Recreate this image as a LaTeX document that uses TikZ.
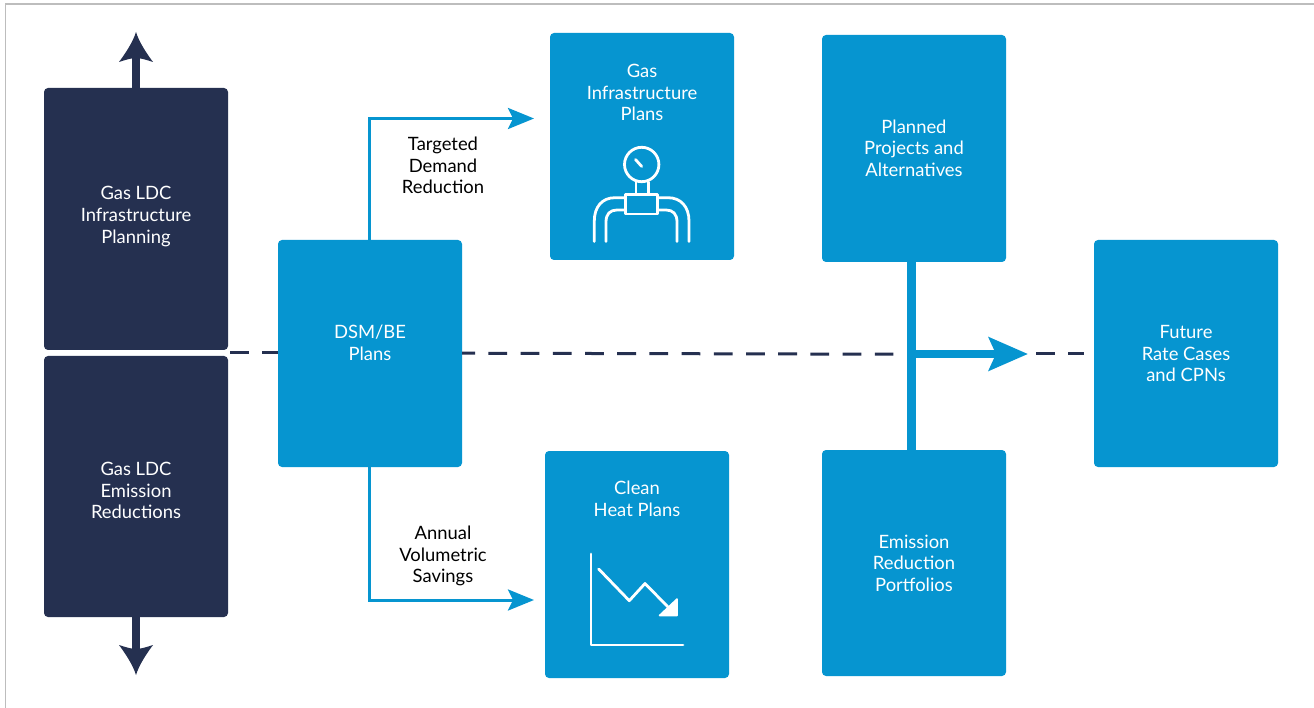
\documentclass[tikz,border=0pt]{standalone}
\usepackage{fontspec}
\setmainfont{Lato}
\usetikzlibrary{arrows.meta,calc}
\definecolor{cblue}{HTML}{0695D0}
\definecolor{cnavy}{HTML}{253050}
\definecolor{cframe}{HTML}{BDBDBD}
\pgfdeclarearrow{
  name=Barb,
  setup code={
    \pgfarrowssettipend{0pt}
    \pgfarrowssetbackend{-30pt}
    \pgfarrowssetlineend{-20pt}
    \pgfarrowsupperhullpoint{0pt}{0pt}
    \pgfarrowsupperhullpoint{-30pt}{17pt}
  },
  drawing code={
    \pgfpathmoveto{\pgfqpoint{0pt}{0pt}}
    \pgfpathcurveto{\pgfqpoint{-10pt}{3pt}}{\pgfqpoint{-22pt}{11pt}}{\pgfqpoint{-30pt}{17pt}}
    \pgfpathcurveto{\pgfqpoint{-27pt}{8pt}}{\pgfqpoint{-26pt}{3pt}}{\pgfqpoint{-26pt}{0pt}}
    \pgfpathcurveto{\pgfqpoint{-26pt}{-3pt}}{\pgfqpoint{-27pt}{-8pt}}{\pgfqpoint{-30pt}{-17pt}}
    \pgfpathcurveto{\pgfqpoint{-22pt}{-11pt}}{\pgfqpoint{-10pt}{-3pt}}{\pgfqpoint{0pt}{0pt}}
    \pgfpathclose
    \pgfusepathqfill
  }
}
\tikzset{
  x=1pt,y=-1pt,
  boxshape/.style={rectangle,rounded corners=4pt,minimum width=184pt,inner sep=0pt,outer sep=0pt},
  bluebox/.style={boxshape,fill=cblue},
  navybox/.style={boxshape,fill=cnavy},
  boxtext/.style={text=white,align=center,font=\fontsize{18.4}{21.6}\selectfont,inner sep=0pt},
  linktext/.style={text=black,align=center,font=\fontsize{18.4}{21.6}\selectfont,inner sep=0pt},
  thinlink/.style={cblue,line width=3pt,-{Stealth[length=26pt,width=21pt,inset=5pt]}},
  dashlink/.style={cnavy,line width=3pt,dash pattern=on 18.8pt off 13.4pt},
  heavybar/.style={cblue,line width=9pt},
  heavylink/.style={cblue,line width=8pt,-{Stealth[length=39pt,width=33pt,inset=7pt]}},
  navylink/.style={cnavy,line width=7.5pt,-{Barb}},
  icon/.style={white,line width=2.8pt,line cap=round,line join=round},
}
\begin{document}
\begin{tikzpicture}
\useasboundingbox (0,0) rectangle (1314,708);
\fill[white] (0,0) rectangle (1314,708);
\draw[cframe,line width=1.2pt] (5.5,708) -- (5.5,4) -- (1314,4);
% boxes
\node[navybox,minimum height=262pt] (infra) at (136,219) {};
\node[navybox,minimum height=261pt] (emis) at (136,486.5) {};
\node[bluebox,minimum height=227pt] (dsm) at (370,353.5) {};
\node[bluebox,minimum height=227pt] (gas) at (642,146.5) {};
\node[bluebox,minimum height=227pt] (clean) at (637,564.5) {};
\node[bluebox,minimum height=227pt] (planned) at (914,148.5) {};
\node[bluebox,minimum height=226pt] (portfolios) at (914,563) {};
\node[bluebox,minimum height=227pt] (future) at (1186,353.5) {};
% free ends
\coordinate (upend) at (136,32);
\coordinate (downend) at (136,675);
\coordinate (gastip) at (534,118.5);
\coordinate (cleantip) at (534,600);
\coordinate (junction) at (230,353);
\coordinate (dashend) at (893.3,354.2);
\coordinate (barl) at (916,354);
\coordinate (bigtip) at (1028,354);
\coordinate (dashstart) at (1036,354);
\coordinate (dashstop) at (1084,354);
% connectors
\draw[dashlink] (junction) -- (junction -| dsm.west);
\draw[dashlink,dash phase=5.8pt] (dsm.east |- 0,353.2) -- (dashend);
\draw[dashlink] (dashstart) -- (dashstop);
\draw[thinlink] ($(dsm.north)+(-0.5,0)$) |- (gastip);
\draw[thinlink] ($(dsm.south)+(-0.5,0)$) |- (cleantip);
\draw[heavybar] ($(planned.south)+(-2.5,0)$) -- ($(portfolios.north)+(-2.5,0)$);
\draw[heavylink] (barl) -- (bigtip);
\draw[navylink] (infra.north) -- (upend);
\draw[navylink] (emis.south) -- (downend);
% texts
\node[boxtext] (t1) at (136,216.5) {Gas LDC\\Infrastructure\\Planning};
\node[boxtext] (t2) at (136,490.5) {Gas LDC\\Emission\\Reductions};
\node[boxtext] (t3) at (370,342.5) {DSM/BE\\Plans};
\node[boxtext] (t4) at (642,92.5) {Gas\\Infrastructure\\Plans};
\node[boxtext] (t5) at (637,498.5) {Clean\\Heat Plans};
\node[boxtext] (t6) at (914,148) {Planned\\Projects and\\Alternatives};
\node[boxtext] (t7) at (914,563) {Emission\\Reduction\\Portfolios};
\node[boxtext] (t8) at (1186,353.5) {Future\\Rate Cases\\and CPNs};
\node[linktext] (l1) at (443,165.5) {Targeted\\Demand\\Reduction};
\node[linktext] (l2) at (443,556) {Annual\\Volumetric\\Savings};
% gauge icon
\draw[icon] (641.7,164.5) circle (17.2);
\draw[icon] (635.5,159.5) -- (641.7,166.5);
\draw[icon] (636,182) -- (636,194.5) (648.3,182) -- (648.3,194.5);
\draw[icon] (625.7,194.5) rectangle (657.7,214);
\draw[icon] (594.3,241.5) -- (594.3,221) .. controls (594.3,207) and (602,197.7) .. (615,197.7) -- (625.7,197.7);
\draw[icon] (606,241.5) -- (606,222) .. controls (606,214) and (610,210) .. (617,210) -- (625.7,210);
\draw[icon] (689,241.5) -- (689,221) .. controls (689,207) and (681,197.7) .. (668,197.7) -- (657.7,197.7);
\draw[icon] (677,241.5) -- (677,222) .. controls (677,214) and (673,210) .. (666,210) -- (657.7,210);
% chart icon
\draw[icon] (591,554) -- (591,645) -- (683,645);
\draw[icon] (598.7,569) -- (629.3,600.7) -- (645,583.5) -- (668,607);
\fill[white,draw=white,line width=1.5pt,line join=round] (677,599) -- (677,615.5) -- (659.5,615.5) -- cycle;
\end{tikzpicture}
\end{document}
